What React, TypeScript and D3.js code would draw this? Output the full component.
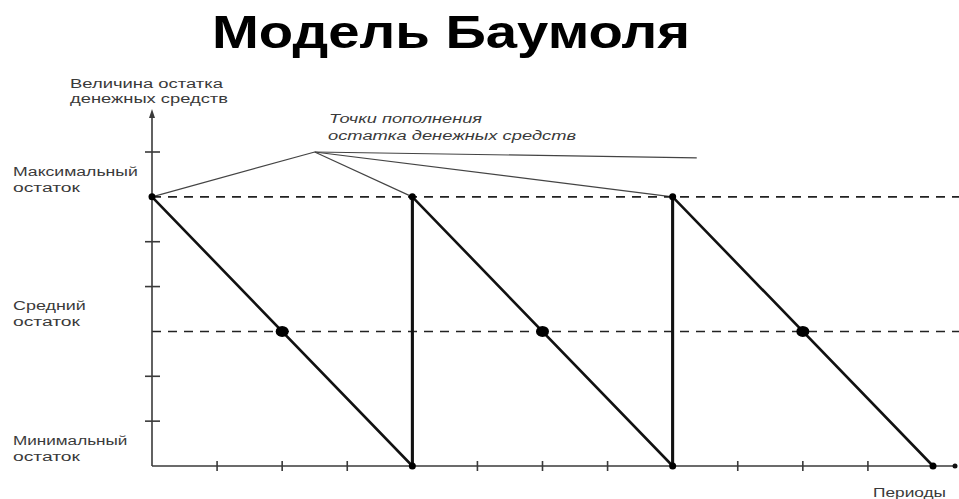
import React from 'react';
import * as d3 from 'd3';

// Baumol model: cash balance over periods (units: periods / balance units)
const replenishT = [0, 4, 8];           // moments when balance is topped up
const cycleLength = 4;
const maxBalance = 6;
const avgBalance = 3;
const minBalance = 0;
const xTicks = [1, 2, 3, 4, 5, 6, 7, 8, 9, 10, 11, 12];
const yTicks = [1, 2, 3, 4, 5, 6, 7];
const avgT = [2, 6, 10];
const apex = { t: 2.5, v: 7 };
const apexTail = { t: 8.37, v: 6.87 };

const title = 'Модель Баумоля';
const yAxisLabel = ['Величина остатка', 'денежных средств'];
const annotation = ['Точки пополнения', 'остатка денежных средств'];
const levelLabels = [
  { v: maxBalance, lines: ['Максимальный', 'остаток'] },
  { v: avgBalance, lines: ['Средний', 'остаток'] },
  { v: minBalance, lines: ['Минимальный', 'остаток'] },
];
const xAxisLabel = 'Периоды';

const W = 959, H = 499;

const App = () => {
  const x = d3.scaleLinear().domain([0, 12]).range([152, 933]);
  const y = d3.scaleLinear().domain([0, 7]).range([466, 152]);

  // sawtooth path
  const pts: [number, number][] = [];
  replenishT.forEach((t) => {
    pts.push([t, maxBalance]);
    pts.push([t + cycleLength, minBalance]);
  });
  const line = d3.line<[number, number]>().x((d) => x(d[0])).y((d) => y(d[1]));

  const labelFont = 'Liberation Sans, Arial, sans-serif';
  const gray = '#3a3a3a';

  return (
    <svg width={W} height={H} style={{ position: 'absolute', left: 0, top: 0, background: '#fff' }}>
      <text x={451} y={48} textAnchor="middle" fontFamily={labelFont} fontWeight="bold"
        fontSize={46} textLength={478} lengthAdjust="spacingAndGlyphs" fill="#000">{title}</text>

      {/* y axis label */}
      {yAxisLabel.map((s, i) => (
        <text key={s} x={70} y={88 + i * 15} fontFamily={labelFont} fontSize={12} fill={gray}
          textLength={i === 0 ? 153 : 158} lengthAdjust="spacingAndGlyphs">{s}</text>
      ))}

      {/* level labels */}
      {levelLabels.map((l) => (
        <g key={l.lines[0]}>
          {l.lines.map((s, i) => (
            <text key={i} x={13} y={y(l.v) - 21 + i * 16} fontFamily={labelFont} fontSize={12} fill={gray}
              textLength={i === 1 ? 67 : l.lines[0].length * 10.4} lengthAdjust="spacingAndGlyphs">{s}</text>
          ))}
        </g>
      ))}

      <text x={873} y={497} fontFamily={labelFont} fontSize={12} fill={gray}
        textLength={73} lengthAdjust="spacingAndGlyphs">{xAxisLabel}</text>

      {/* annotation */}
      {annotation.map((s, i) => (
        <text key={s} x={329 - i} y={123 + i * 17} fontFamily={labelFont} fontStyle="italic" fontSize={12}
          fill={gray} textLength={i === 0 ? 153 : 248} lengthAdjust="spacingAndGlyphs">{s}</text>
      ))}
      {replenishT.map((t) => (
        <line key={t} x1={x(apex.t)} y1={y(apex.v)} x2={x(t)} y2={y(maxBalance)} stroke="#444" strokeWidth={1.2} />
      ))}
      <line x1={x(apex.t)} y1={y(apex.v)} x2={x(apexTail.t)} y2={y(apexTail.v)} stroke="#444" strokeWidth={1.2} />

      {/* dashed levels */}
      {[maxBalance, avgBalance].map((v) => (
        <line key={v} x1={x(0)} x2={W} y1={y(v)} y2={y(v)} stroke="#222" strokeWidth={1.6} strokeDasharray="9 7" />
      ))}

      {/* axes */}
      <line x1={x(0)} y1={y(0)} x2={x(0)} y2={114} stroke={gray} strokeWidth={1.6} />
      <path d={`M${x(0) - 3},118 L${x(0)},109 L${x(0) + 3},118 Z`} fill={gray} />
      <line x1={x(0)} y1={y(0)} x2={955} y2={y(0)} stroke={gray} strokeWidth={1.6} />
      <circle cx={955} cy={y(0)} r={2.5} fill="#111" />
      {yTicks.filter((v) => v !== avgBalance && v !== maxBalance).map((v) => (
        <line key={v} x1={x(0) - 7} x2={x(0) + 8} y1={y(v)} y2={y(v)} stroke={gray} strokeWidth={1.6} />
      ))}
      {xTicks.filter((t) => t % cycleLength !== 0).map((t) => (
        <line key={t} x1={x(t)} x2={x(t)} y1={y(0) - 5} y2={y(0) + 5} stroke={gray} strokeWidth={1.6} />
      ))}

      {/* sawtooth */}
      <path d={line(pts) ?? ''} fill="none" stroke="#111" strokeWidth={2.6} />
      {replenishT.slice(1).map((t) => (
        <line key={t} x1={x(t)} x2={x(t)} y1={y(minBalance)} y2={y(maxBalance)} stroke="#111" strokeWidth={3} />
      ))}
      {replenishT.map((t) => (
        <circle key={'m' + t} cx={x(t)} cy={y(maxBalance)} r={3.5} fill="#000" />
      ))}
      {replenishT.map((t) => (
        <circle key={'n' + t} cx={x(t + cycleLength)} cy={y(minBalance)} r={3.5} fill="#000" />
      ))}
      {avgT.map((t) => (
        <ellipse key={t} cx={x(t)} cy={y(avgBalance)} rx={6.5} ry={5.5} fill="#000" />
      ))}
    </svg>
  );
};

export default App;
